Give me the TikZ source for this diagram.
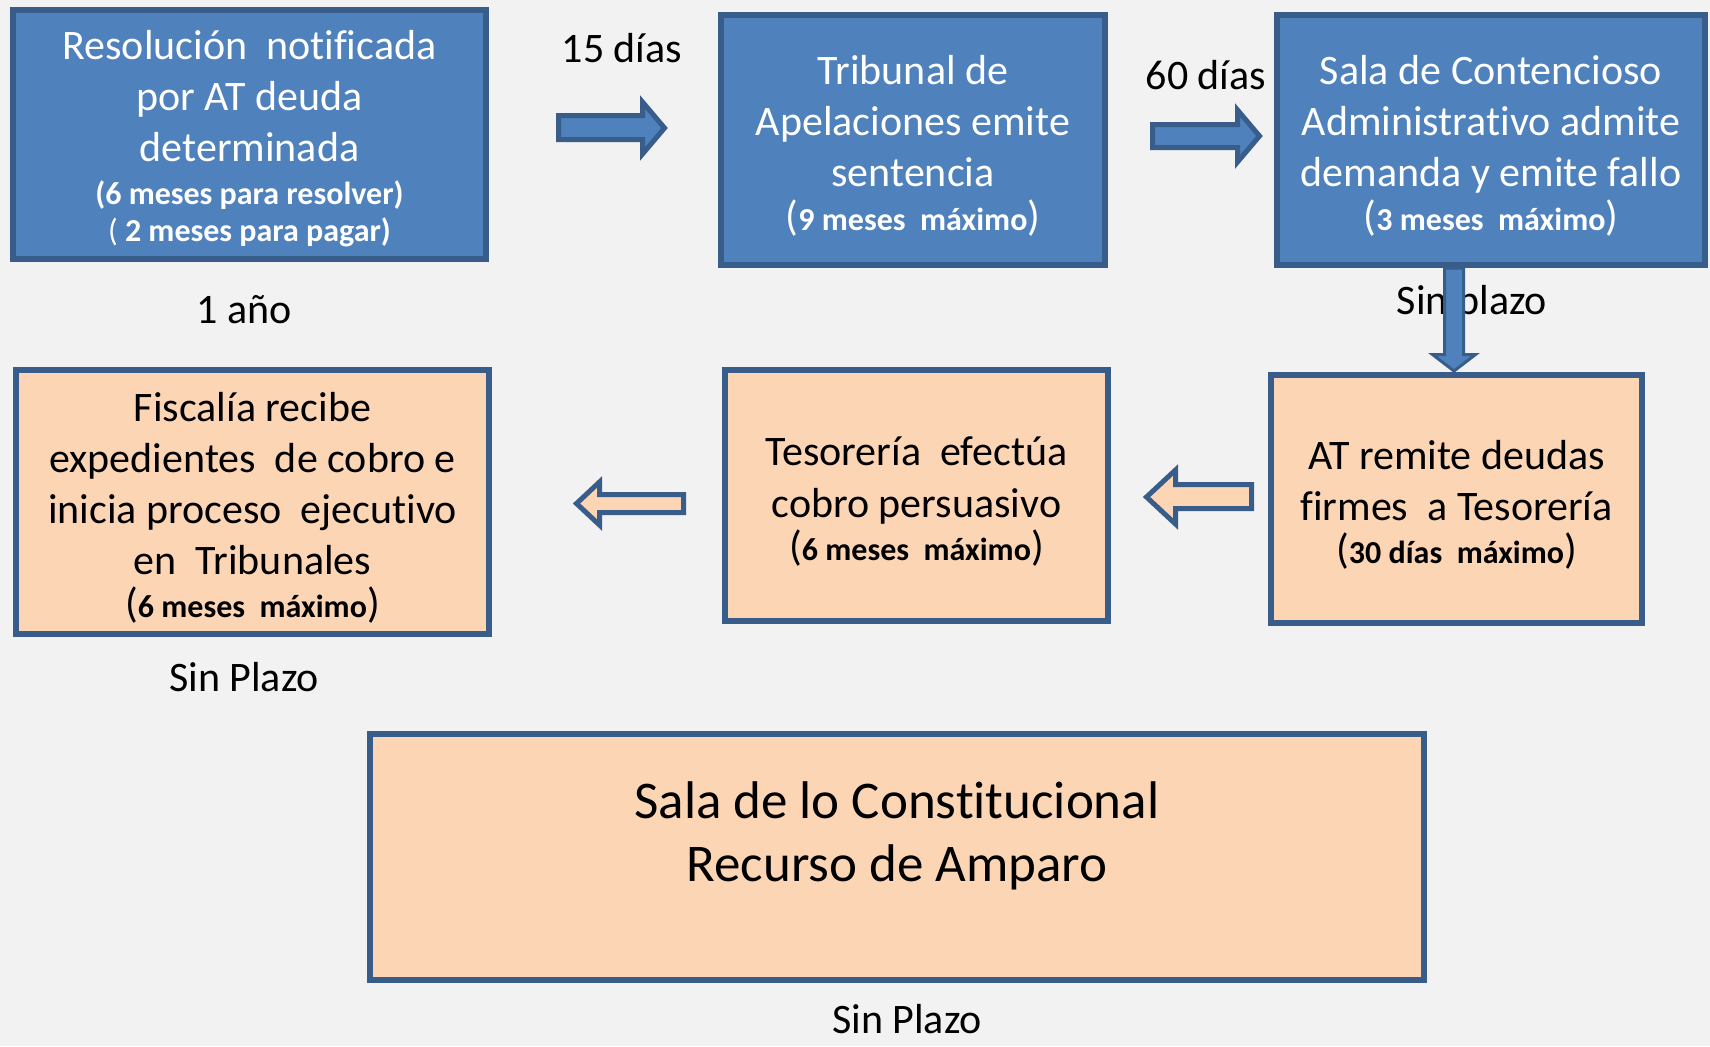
\documentclass[tikz,border=0pt]{standalone}
\usepackage{fontspec}
\setmainfont{Carlito}[Ligatures=NoCommon]
\definecolor{boxblue}{HTML}{4F81BD}
\definecolor{edgeblue}{HTML}{385D8A}
\definecolor{boxpeach}{HTML}{FCD5B5}
\definecolor{backgray}{HTML}{F2F2F2}
\newcommand{\plazotxt}[1]{{\fontsize{16}{19}\selectfont\bfseries #1}}

\begin{document}
\begin{tikzpicture}[x=0.5pt,y=-0.5pt,
        bluebox/.style={draw=edgeblue,line width=3pt,fill=boxblue,inner sep=0pt},
        peachbox/.style={draw=edgeblue,line width=3pt,fill=boxpeach,inner sep=0pt},
        boxtext/.style={align=center,inner sep=0pt,yshift=-3pt,font=\fontsize{21}{25.5}\selectfont},
        plazo/.style={font=\fontsize{21}{25.5}\selectfont,inner sep=0pt},
        bluearrow/.style={draw=edgeblue,fill=boxblue,line width=2.5pt,line join=miter},
        peacharrow/.style={draw=edgeblue,fill=boxpeach,line width=2.5pt,line join=miter}]

        % background
        \fill[backgray] (0,0) rectangle (1710,1046);
        \useasboundingbox (0,0) rectangle (1710,1046);

        % upper row
        \node[bluebox,minimum width=236.5pt,minimum height=124.5pt] (resolucion) at (249.5,134.5) {};
        \node[boxtext,text=white,yshift=1pt] (resolucion-t) at (resolucion.center)
            {Resolución\ \ notificada\\ por AT deuda\\ determinada\\[-4pt]
             \plazotxt{(6 meses para resolver)}\\[-7pt]
             \plazotxt{{\mdseries(} 2 meses para pagar)}};
        \node[bluebox,minimum width=192pt,minimum height=125pt] (tribunal) at (913,140) {};
        \node[boxtext,text=white] (tribunal-t) at (tribunal.center)
            {Tribunal de\\ Apelaciones emite\\ sentencia\\[-3.5pt]
             (\plazotxt{9 meses\ \ máximo})};
        \node[bluebox,minimum width=214pt,minimum height=125pt] (sala) at (1491,140) {};
        \node[boxtext,text=white] (sala-t) at (sala.center)
            {Sala de Contencioso\\ Administrativo admite\\ demanda y emite fallo\\[-3.5pt]
             (\plazotxt{3 meses\ \ máximo})};

        % middle row
        \node[peachbox,minimum width=236.5pt,minimum height=132pt] (fiscalia) at (252.5,502) {};
        \node[boxtext] (fiscalia-t) at (fiscalia.center)
            {Fiscalía recibe\\ expedientes\ \ de cobro e\\ inicia proceso\ \ ejecutivo\\
             en\ \ Tribunales\\[-4pt]
             (\plazotxt{6 meses\ \ máximo})};
        \node[peachbox,minimum width=191.5pt,minimum height=125.5pt] (tesoreria) at (916.5,495.5) {};
        \node[boxtext] (tesoreria-t) at (tesoreria.center)
            {Tesorería\ \ efectúa\\[0.8pt] cobro persuasivo\\[-4pt]
             (\plazotxt{6 meses\ \ máximo})};
        \node[peachbox,minimum width=185.5pt,minimum height=124pt] (remite) at (1456.5,499) {};
        \node[boxtext] (remite-t) at (remite.center)
            {AT remite deudas\\ firmes\ \ a Tesorería\\[-4pt]
             (\plazotxt{30 días\ \ máximo})};

        % lower box
        \node[peachbox,minimum width=527pt,minimum height=123pt] (amparo) at (897,857) {};
        \node[align=center,inner sep=0pt,font=\fontsize{26.5}{31.5}\selectfont] (amparo-t)
            at ([yshift=10.5pt]amparo.center) {Sala de lo Constitucional\\ Recurso de Amparo};

        % plazos
        \node[plazo] (p15)  at (622,48)   {15 días};
        \node[plazo] (p60)  at (1206,75)  {60 días};
        \node[plazo] (pano) at (244,310)  {1 año};
        \node[plazo] (psin) at (1472,303) {Sin plazo};
        \node[plazo] (pfis) at (244,677)  {Sin Plazo};
        \node[plazo] (pamp) at (907,1019) {Sin Plazo};

        % block arrows
        \draw[bluearrow] (558.5,115.5) -- (642.5,115.5) -- (642.5,102) -- (664.5,128)
            -- (642.5,154) -- (642.5,139.5) -- (558.5,139.5) -- cycle;
        \draw[bluearrow] (1152.5,124.5) -- (1237.5,124.5) -- (1237.5,110) -- (1259.5,136)
            -- (1237.5,162) -- (1237.5,147.5) -- (1152.5,147.5) -- cycle;
        \draw[peacharrow] (576.5,503.5) -- (599.5,482) -- (599.5,494.5) -- (683.5,494.5)
            -- (683.5,512.5) -- (599.5,512.5) -- (599.5,525) -- cycle;
        \draw[peacharrow] (1146.5,497) -- (1175.5,470) -- (1175.5,484.5) -- (1251.5,484.5)
            -- (1251.5,508.5) -- (1175.5,508.5) -- (1175.5,524) -- cycle;
        \draw[bluearrow,line width=1.5pt] (1444.5,268) -- (1444.5,354.5) -- (1432.5,354.5)
            -- (1454,371) -- (1475.5,354.5) -- (1463.5,354.5) -- (1463.5,268) -- cycle;
    \end{tikzpicture}
\end{document}
